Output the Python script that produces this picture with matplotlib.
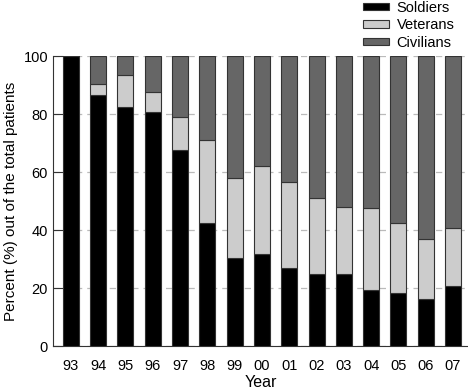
import numpy as np
import matplotlib.pyplot as plt

plt.rcParams['font.family'] = ['Liberation Sans', 'DejaVu Sans']

years = ['93', '94', '95', '96', '97', '98', '99', '00', '01', '02', '03', '04', '05', '06', '07']
soldiers = [100, 86.6, 82.5, 80.8, 67.7, 42.5, 30.4, 31.8, 27.0, 24.7, 24.7, 19.2, 18.2, 16.1, 20.8]
veterans_top = [100, 90.3, 93.6, 87.5, 79.0, 70.9, 57.8, 62.0, 56.4, 50.9, 48.0, 47.5, 42.3, 36.8, 40.8]
veterans = [t - s for t, s in zip(veterans_top, soldiers)]
civilians = [100 - t for t in veterans_top]

fig = plt.figure(figsize=(4.68, 3.89), dpi=100)
ax = fig.add_axes([0.113, 0.1105, 0.887, 0.7455])

x = np.arange(len(years))
w = 0.585
ec = '#333333'
ax.bar(x, soldiers, w, color='black', edgecolor=ec, linewidth=0.8, label='Soldiers', zorder=3)
ax.bar(x, veterans, w, bottom=soldiers, color='#cccccc', edgecolor=ec, linewidth=0.8, label='Veterans', zorder=3)
ax.bar(x, civilians, w, bottom=veterans_top, color='#666666', edgecolor=ec, linewidth=0.8, label='Civilians', zorder=3)

ax.set_xlim(-0.66, 14.55)
ax.set_ylim(0, 100)
ax.set_xticks(x)
ax.set_xticklabels(years, fontsize=10.5)
ax.set_yticks([0, 20, 40, 60, 80, 100])
ax.tick_params(axis='y', direction='in', length=7, labelsize=10.5, color='#333333')
ax.tick_params(axis='x', length=0, pad=9)
ax.yaxis.grid(True, linestyle=(0, (5, 4)), color='#bbbbbb', linewidth=0.9, zorder=0)
ax.spines['top'].set_visible(False)
ax.spines['right'].set_visible(False)
ax.spines['left'].set_color('#333333')
ax.spines['bottom'].set_color('#333333')
ax.set_xlabel('Year', fontsize=11.5, labelpad=2)
ax.set_ylabel('Percent (%) out of the total patients', fontsize=11, labelpad=4)

fig.legend(loc='upper left', bbox_to_anchor=(0.748, 1.032), frameon=False, fontsize=10.5,
           handlelength=1.8, handleheight=0.4, labelspacing=0.25, handletextpad=0.5)

fig.savefig('out.png', dpi=100)
